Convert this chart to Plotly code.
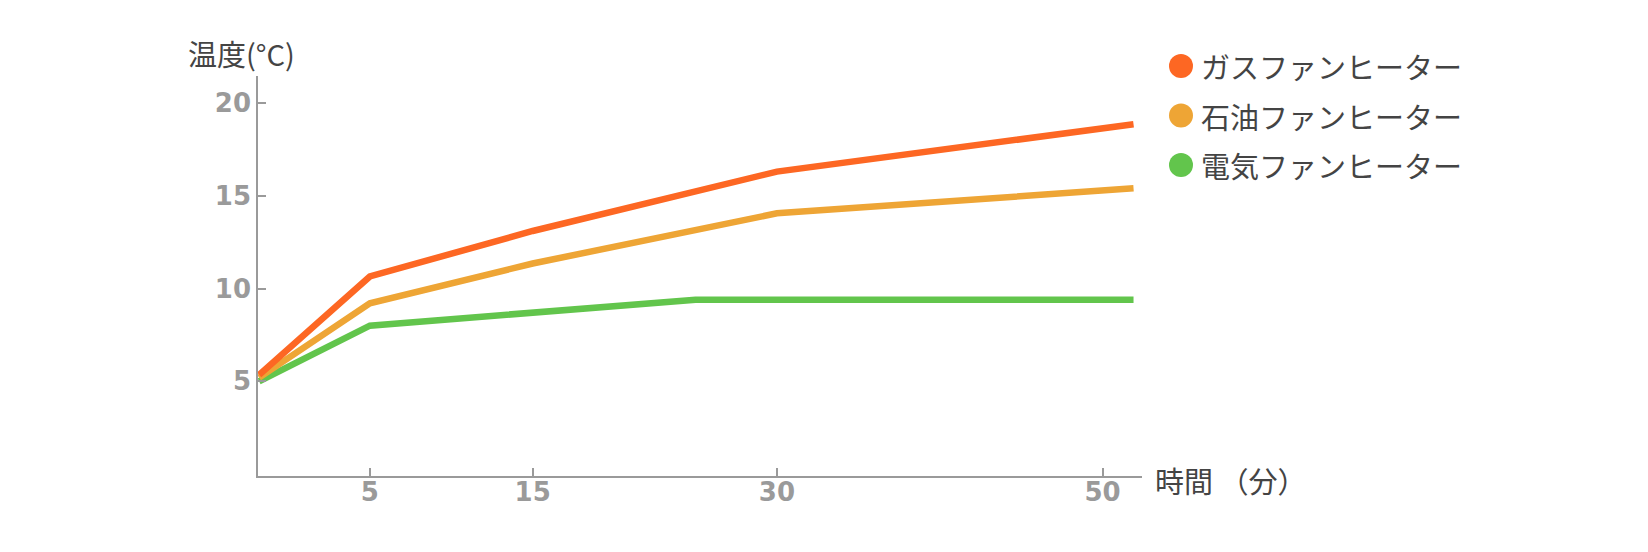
import plotly.graph_objects as go

# 経過時間(分) ※左端は軸の起点
minutos_gas = [-1.8, 5, 15, 30, 51.9]
minutos_denki = [-1.8, 5, 25, 51.9]

temp_gas = [5.35, 10.65, 13.1, 16.3, 18.85]
temp_sekiyu = [5.2, 9.2, 11.35, 14.05, 15.4]
temp_denki = [5.0, 8.0, 9.4, 9.4]

nomes = ['ガスファンヒーター', '石油ファンヒーター', '電気ファンヒーター']
cores = ['#fd6723', '#eea535', '#62c54c']

x_ticks = [5, 15, 30, 50]
y_ticks = [5, 10, 15, 20]

# a página tem margem de 8px no body, então compenso aqui
OFF = 8
W, H = 1648, 552
L, R, T, B = 258 - OFF, 506 + OFF, 76 - OFF, 76 + OFF
pw, ph = W - L - R, H - T - B


def px_x(p):
    return (p - OFF - L) / pw


def px_y(p):
    return (H - B - (p - OFF)) / ph


fig = go.Figure()

# desenha do fundo pra frente: elétrico, querosene, gás
series = [
    (minutos_denki, temp_denki, cores[2]),
    (minutos_gas, temp_sekiyu, cores[1]),
    (minutos_gas, temp_gas, cores[0]),
]
for xs, ys, cor in series:
    fig.add_trace(go.Scatter(
        x=xs, y=ys, mode='lines',
        line=dict(color=cor, width=6.5),
        showlegend=False, hoverinfo='skip'
    ))

eixo = dict(
    showgrid=False, zeroline=False, showline=True,
    linecolor='#9a9a9a', linewidth=1.5,
    ticks='inside', ticklen=8, tickwidth=1.5, tickcolor='#9a9a9a',
    tickfont=dict(family='DejaVu Sans', size=26, color='#9a9a9a', weight='bold'),
)

fig.update_layout(
    width=W, height=H,
    margin=dict(l=L, r=R, t=T, b=B),
    paper_bgcolor='white', plot_bgcolor='white',
    xaxis=dict(range=[-1.87, 52.42], tickvals=x_ticks, ticklabelstandoff=-8, **eixo),
    yaxis=dict(range=[-0.1, 21.45], tickvals=y_ticks, ticklabelstandoff=0, **eixo),
    showlegend=False,
)

fonte_txt = dict(family='Noto Sans CJK JP', size=28, color='#444444')
fonte_leg = dict(family='Noto Sans CJK JP', size=29, color='#444444')

fig.add_annotation(text='温度(°C)', xref='paper', yref='paper',
                   x=px_x(186), y=px_y(53), xanchor='left', yanchor='middle',
                   showarrow=False, font=fonte_leg)
fig.add_annotation(text='時間 （分）', xref='paper', yref='paper',
                   x=px_x(1153), y=px_y(480), xanchor='left', yanchor='middle',
                   showarrow=False, font=fonte_leg)

# legenda manual (círculos maiores que os do legend do plotly)
for i, (nome, cor) in enumerate(zip(nomes, cores)):
    cy = 66 + i * 49.5
    fig.add_shape(type='circle', xref='paper', yref='paper',
                  xsizemode='pixel', ysizemode='pixel',
                  xanchor=px_x(1181), yanchor=px_y(cy),
                  x0=-12, x1=12, y0=-12, y1=12,
                  fillcolor=cor, line=dict(width=0))
    fig.add_annotation(text=nome, xref='paper', yref='paper',
                       x=px_x(1199), y=px_y(cy), xanchor='left', yanchor='middle',
                       showarrow=False, font=fonte_leg)

fig.write_html('out.html')
